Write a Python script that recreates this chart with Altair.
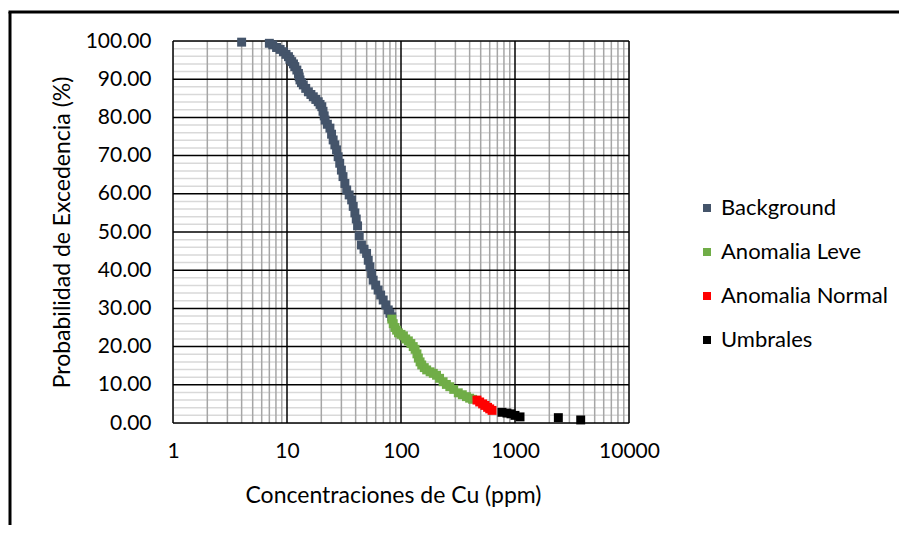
import altair as alt
import pandas as pd

# ---- data ----
bg_cu = [4.0, 7.0, 7.5, 8.1, 8.7, 9.3, 9.8, 10.3, 10.6, 11.0, 11.4, 11.7, 12.2, 12.6, 12.8, 13.0,
         13.4, 13.9, 14.6, 15.4, 16.2, 17.0, 17.9, 18.8, 19.5, 20.2, 20.7, 21.2, 21.6, 22.6, 23.8,
         24.6, 25.4, 26.3, 27.2, 28.1, 29.0, 30.0, 31.0, 32.2, 33.4, 35.1, 36.9, 38.1, 39.4, 40.5,
         41.6, 43.0, 45.0, 47.4, 49.9, 51.6, 53.4, 55.2, 57.0, 60.0, 63.0, 66.3, 69.8, 73.5, 77.3,
         80.0, 83.0]
bg_p = [99.7, 99.4, 99.0, 98.3, 97.8, 97.2, 96.5, 95.9, 95.2, 94.6, 94.0, 93.3, 92.4, 91.5, 90.6, 89.8,
        89.1, 88.5, 87.6, 86.7, 86.0, 85.4, 84.7, 84.1, 83.4, 82.8, 81.6, 80.4, 79.3, 78.2, 77.2,
        75.6, 74.1, 72.8, 71.5, 69.7, 68.0, 66.2, 64.5, 62.7, 61.0, 59.7, 58.4, 56.7, 55.0, 53.4,
        51.6, 49.0, 46.6, 45.5, 44.4, 42.6, 40.9, 39.1, 37.4, 36.1, 34.8, 33.5, 32.2, 30.9, 29.6,
        28.7, 27.8]

leve_cu = [83.0, 85.5, 88.5, 91.5, 95.0, 100.0, 105.0, 110.0, 116.0, 122.0, 128.0, 133.0, 138.0,
           142.0, 147.0, 152.0, 160.0, 168.0, 180.0, 192.0, 205.0, 218.0, 234.0, 250.0, 268.0,
           290.0, 318.0, 345.0, 375.0, 400.0, 425.0]
leve_p = [27.2, 26.0, 25.0, 24.3, 23.6, 23.2, 22.8, 22.0, 21.5, 20.8, 20.0, 19.3, 18.1,
          17.0, 16.0, 15.2, 14.5, 13.9, 13.4, 13.0, 12.5, 11.7, 10.8, 10.1, 9.5,
          8.8, 7.9, 7.4, 6.9, 6.5, 6.2]

normal_cu = [464.0, 490.0, 520.0, 545.0, 575.0, 600.0, 629.0]
normal_p = [6.0, 5.5, 5.0, 4.6, 4.1, 3.7, 3.3]

umb_cu = [769.0, 850.0, 922.0, 1000.0, 1107.0, 2400.0, 3770.0]
umb_p = [2.8, 2.6, 2.4, 2.0, 1.6, 1.4, 0.8]

series_names = ["Background", "Anomalia Leve", "Anomalia Normal", "Umbrales"]
series_colors = ["#44546A", "#70AD47", "#FF0000", "#000000"]

x_major = [1, 10, 100, 1000, 10000]
x_minor = [m * d for d in [1, 10, 100, 1000] for m in range(2, 10)]
y_major = list(range(0, 101, 10))
y_minor = [v for v in range(2, 100, 2) if v % 10 != 0]

FONT = "Lato"
X_TITLE = "Concentraciones de Cu (ppm)"
Y_TITLE = "Probabilidad de Excedencia (%)"

rows = []
for name, cus, ps in zip(series_names, [bg_cu, leve_cu, normal_cu, umb_cu], [bg_p, leve_p, normal_p, umb_p]):
    for c, p in zip(cus, ps):
        rows.append({"serie": name, "cu": c, "p": p})
df = pd.DataFrame(rows)

xscale = alt.Scale(type="log", domain=[1, 10000], nice=False)
yscale = alt.Scale(domain=[0, 100], nice=False, zero=False)

xaxis = alt.Axis(values=x_major, labelExpr="format(datum.value, 'd')", grid=False,
                 domain=False, ticks=False, tickSize=0, labelPadding=17,
                 labelFont=FONT, labelFontSize=21, labelColor="#000000",
                 titleFont=FONT, titleFontSize=23, titleFontWeight="normal",
                 titleColor="#000000", titleX=220, titleY=72, titleBaseline="middle",
                 labelFlush=False)
yaxis = alt.Axis(values=y_major, format=".2f", grid=False, domain=False, ticks=False,
                 tickSize=0, labelPadding=22, labelFont=FONT, labelFontSize=21,
                 labelColor="#000000", titleFont=FONT, titleFontSize=23,
                 titleFontWeight="normal", titleColor="#000000", titleX=-111, titleY=191,
                 titleAngle=270, titleBaseline="middle", labelFlush=False)

ygm = alt.Chart(pd.DataFrame({"v": y_minor})).mark_rule(color="#D9D9D9", strokeWidth=1.5).encode(
    y=alt.Y("v:Q", scale=yscale, axis=yaxis, title=Y_TITLE))
xgm = alt.Chart(pd.DataFrame({"v": x_minor})).mark_rule(color="#A6A6A6", strokeWidth=1.5).encode(
    x=alt.X("v:Q", scale=xscale, axis=xaxis, title=X_TITLE))
ygM = alt.Chart(pd.DataFrame({"v": y_major})).mark_rule(color="#000000", strokeWidth=1.5).encode(
    y=alt.Y("v:Q", scale=yscale, axis=yaxis, title=Y_TITLE))
xgM = alt.Chart(pd.DataFrame({"v": x_major})).mark_rule(color="#000000", strokeWidth=1.5).encode(
    x=alt.X("v:Q", scale=xscale, axis=xaxis, title=X_TITLE))

points = alt.Chart(df).mark_square(size=80, opacity=1).encode(
    x=alt.X("cu:Q", scale=xscale, title=X_TITLE, axis=xaxis),
    y=alt.Y("p:Q", scale=yscale, title=Y_TITLE, axis=yaxis),
    color=alt.Color("serie:N", scale=alt.Scale(domain=series_names, range=series_colors),
                    sort=series_names,
                    legend=alt.Legend(title=None, orient="none", legendX=523, legendY=156,
                                      symbolType="square", symbolSize=64, symbolStrokeWidth=0,
                                      labelFont=FONT, labelFontSize=22, labelColor="#000000",
                                      labelOffset=3, rowPadding=22, padding=0,
                                      labelLimit=300)),
)

one = pd.DataFrame({"a": [0]})
border_left = alt.Chart(one).mark_rule(color="#000000", strokeWidth=3).encode(
    x=alt.value(-163), y=alt.value(-29), y2=alt.value(484))
border_top = alt.Chart(one).mark_rule(color="#000000", strokeWidth=3).encode(
    x=alt.value(-164.5), x2=alt.value(726), y=alt.value(-29))

chart = alt.layer(ygm, xgm, ygM, xgM, points, border_left, border_top).properties(
    width=456, height=382,
    autosize=alt.AutoSizeParams(type="none"),
    padding={"left": 165, "top": 33, "right": 270, "bottom": 102},
).configure_view(stroke="#000000", strokeWidth=1.5).configure(background="white")

chart.save("out.html", embed_options={"renderer": "svg", "actions": False})
